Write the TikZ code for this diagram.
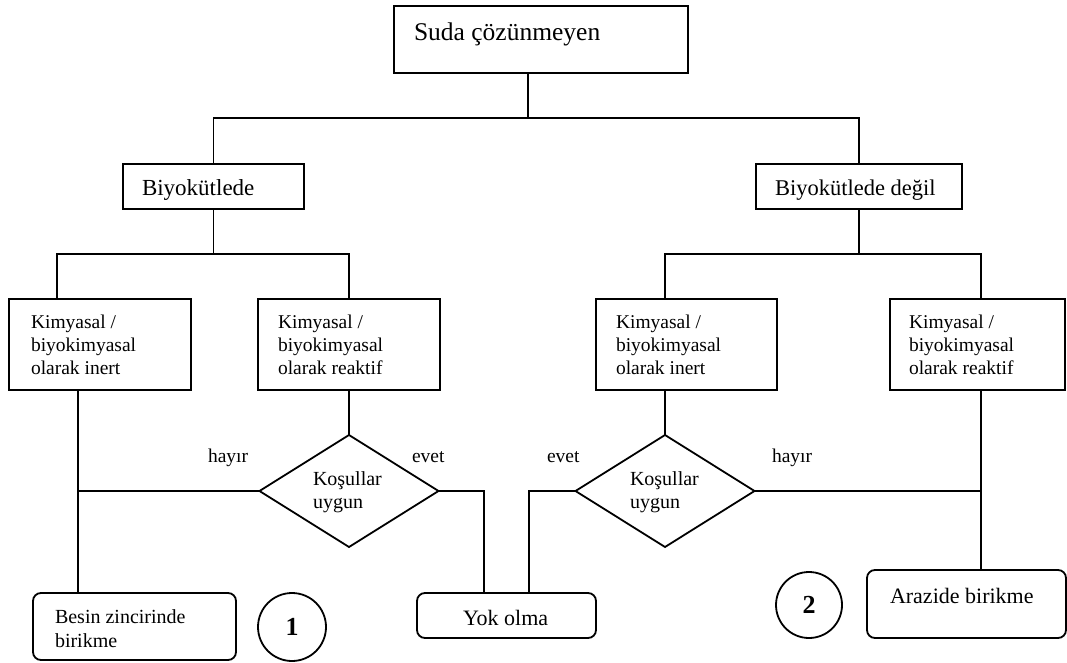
\documentclass[tikz,border=0pt]{standalone}
\usepackage{fontspec}
\setmainfont{Liberation Serif}
\usetikzlibrary{shapes.geometric}
\newcommand{\mlines}[1]{\begin{tabular}[t]{@{}l@{}}#1\end{tabular}}
\begin{document}
\begin{tikzpicture}[x=1pt,y=-1pt,
  ln/.style={line width=1.8pt},
  box/.style={draw,line width=1.8pt,inner sep=0pt,outer sep=0pt,anchor=north west},
  rbox/.style={box,rounded corners=8pt},
  dia/.style={draw,diamond,line width=1.8pt,inner sep=0pt,outer sep=0pt,minimum width=179pt,minimum height=112pt},
  circ/.style={draw,circle,line width=1.8pt,inner sep=0pt,outer sep=0pt},
  lbl/.style={anchor=base west,inner sep=0pt,outer sep=0pt},
  fs/.style={font=\fontsize{#1}{23}\selectfont},
]
\useasboundingbox (0,0) rectangle (1067,663);
% boxes
\node[box,minimum width=294pt,minimum height=67pt] (top) at (394,6) {};
\node[lbl,fs=25.5] (topt) at (414,41) {Suda çözünmeyen};
\node[box,minimum width=181pt,minimum height=45pt] (bio) at (123,164) {};
\node[lbl,fs=23] (biot) at (142,195) {Biyokütlede};
\node[box,minimum width=206pt,minimum height=45pt] (nbio) at (756,164) {};
\node[lbl,fs=22.5] (nbiot) at (775,195) {Biyokütlede değil};
\node[box,minimum width=182pt,minimum height=91pt] (A) at (9,299) {};
\node[lbl,fs=19.5] (At) at (31,328) {\mlines{Kimyasal /\\ biyokimyasal\\ olarak inert}};
\node[box,minimum width=182pt,minimum height=91pt] (B) at (258,299) {};
\node[lbl,fs=19.5] (Bt) at (278,328) {\mlines{Kimyasal /\\ biyokimyasal\\ olarak reaktif}};
\node[box,minimum width=181pt,minimum height=91pt] (C) at (596,299) {};
\node[lbl,fs=19.5] (Ct) at (616,328) {\mlines{Kimyasal /\\ biyokimyasal\\ olarak inert}};
\node[box,minimum width=175pt,minimum height=91pt] (D) at (890,299) {};
\node[lbl,fs=19.5] (Dt) at (909,328) {\mlines{Kimyasal /\\ biyokimyasal\\ olarak reaktif}};
% diamonds
\node[dia] (d1) at (349,491) {};
\node[lbl,fs=20] (d1t) at (313,485) {\mlines{Koşullar\\ uygun}};
\node[dia] (d2) at (665,491) {};
\node[lbl,fs=20] (d2t) at (630,485) {\mlines{Koşullar\\ uygun}};
\node[lbl,fs=19.5] (h1) at (208,462) {hayır};
\node[lbl,fs=19.5] (e1) at (412,462) {evet};
\node[lbl,fs=19.5] (e2) at (547,462) {evet};
\node[lbl,fs=19.5] (h2) at (772,462) {hayır};
% results
\node[rbox,minimum width=203pt,minimum height=67pt] (besin) at (33,593) {};
\node[lbl,font=\fontsize{20}{24}\selectfont] (besint) at (55,623) {\mlines{Besin zincirinde\\ birikme}};
\node[rbox,minimum width=179pt,minimum height=45pt] (yok) at (417,593) {};
\node[lbl,fs=22] (yokt) at (463,625) {Yok olma};
\node[rbox,minimum width=199pt,minimum height=68pt] (araz) at (867,570) {};
\node[lbl,fs=22] (arazt) at (890,603) {Arazide birikme};
\node[circ,minimum size=68pt,font=\bfseries\fontsize{26}{30}\selectfont] (c1) at (292,627) {1};
\node[circ,minimum size=66pt,font=\bfseries\fontsize{26}{30}\selectfont] (c2) at (809,605) {2};
% connectors
\coordinate (j1) at (528,118);
\coordinate (r2) at (0,254);
\draw[ln] (top.south -| j1) -- (j1);
\draw[ln] (bio.north) |- (j1) -| (nbio.north);
\draw[ln] (bio.south) -- (bio.south |- r2);
\draw[ln] ([xshift=48pt]A.north west) |- (bio.south |- r2) -| (B.north);
\draw[ln] (nbio.south) -- (nbio.south |- r2);
\draw[ln] ([xshift=69pt]C.north west) |- (nbio.south |- r2) -| ([xshift=91pt]D.north west);
\coordinate (av) at ([xshift=69pt]A.south west);
\draw[ln] (av) -- (av |- besin.north);
\draw[ln] (d1.west) -- (d1.west -| av);
\draw[ln] (B.south) -- (d1.north);
\coordinate (yl) at ([xshift=67pt]yok.north west);
\coordinate (yr) at ([xshift=112pt]yok.north west);
\draw[ln] (d1.east) -| (yl);
\draw[ln] (d2.west) -| (yr);
\draw[ln] (C.south -| d2.north) -- (d2.north);
\coordinate (dv) at ([xshift=91pt]D.south west);
\draw[ln] (dv) -- (dv |- araz.north);
\draw[ln] (d2.east) -- (d2.east -| dv);
\end{tikzpicture}
\end{document}
